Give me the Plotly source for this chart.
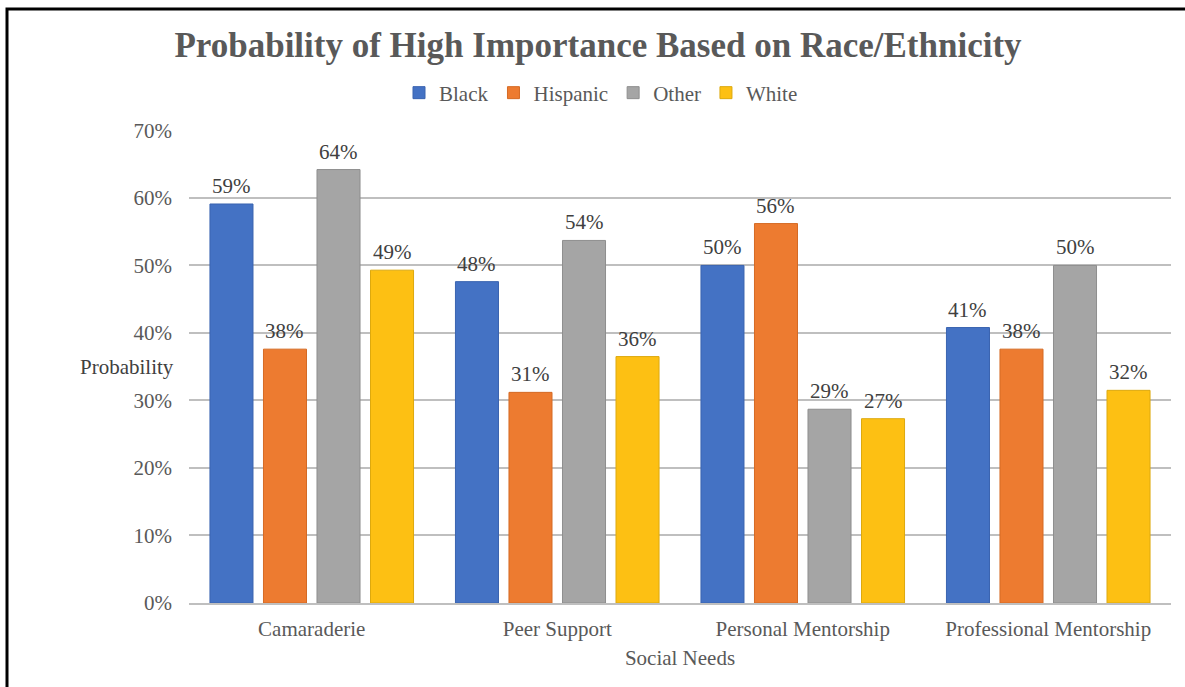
import plotly.graph_objects as go

categories = ["Camaraderie", "Peer Support", "Personal Mentorship", "Professional Mentorship"]
series_names = ["Black", "Hispanic", "Other", "White"]
black = [0.591, 0.476, 0.500, 0.408]
hispanic = [0.376, 0.312, 0.562, 0.376]
other = [0.642, 0.537, 0.287, 0.500]
white = [0.493, 0.365, 0.273, 0.315]
y_ticks = [0, 0.1, 0.2, 0.3, 0.4, 0.5, 0.6, 0.7]

series_values = [black, hispanic, other, white]
colors = ["#4472C4", "#ED7B30", "#A5A5A5", "#FDC013"]
line_colors = ["#3A64B0", "#D56A24", "#8E8E8E", "#DDA90E"]

W, H = 1185, 687
L, R, T, B = 189, 14, 130, 84
bargap = 0.128
bargroupgap = 0.196
FONT = "Liberation Serif"
FS = 21

fig = go.Figure()
for name, vals, c, lc in zip(series_names, series_values, colors, line_colors):
    fig.add_trace(go.Bar(
        name=name, x=categories, y=vals,
        marker=dict(color=c, line=dict(color=lc, width=1)),
    ))

pw, ph = W - L - R, H - T - B

# data labels above each bar
n = len(series_names)
slot = (1 - bargap) / n
annotations = []
for i, vals in enumerate(series_values):
    off = (i - (n - 1) / 2) * slot
    for j, v in enumerate(vals):
        annotations.append(dict(
            x=j + off, y=v, xref="x", yref="y", text=f"{round(v*100)}%",
            showarrow=False, yanchor="bottom", yshift=4,
            font=dict(family=FONT, size=FS, color="#404040"),
        ))

annotations.append(dict(
    x=(78 - L) / pw, y=(H - B - 367) / ph, xref="paper", yref="paper",
    text="Probability", showarrow=False,
    font=dict(family=FONT, size=FS, color="#404040"),
))

fig.update_layout(
    width=W, height=H,
    margin=dict(l=L, r=R, t=T, b=B),
    paper_bgcolor="white", plot_bgcolor="white",
    barmode="group", bargap=bargap, bargroupgap=bargroupgap,
    title=dict(
        text="<b>Probability of High Importance Based on Race/Ethnicity</b>",
        x=598 / W, xanchor="center", y=1 - 45 / H, yanchor="middle",
        font=dict(family=FONT, size=35, color="#595959"),
    ),
    legend=dict(
        orientation="h", x=(601 - L) / pw, xanchor="center",
        y=(H - B - 93) / ph, yanchor="middle",
        font=dict(family=FONT, size=FS, color="#595959"),
        itemwidth=30, tracegroupgap=0, bgcolor="rgba(0,0,0,0)",
    ),
    xaxis=dict(
        showline=True, linecolor="#BFBFBF", linewidth=2,
        ticks="", ticklabelstandoff=6,
        tickfont=dict(family=FONT, size=FS, color="#595959"),
        title=dict(text="Social Needs", standoff=10,
                   font=dict(family=FONT, size=FS, color="#595959")),
    ),
    yaxis=dict(
        range=[0, 0.7006], tickvals=y_ticks, tickformat=".0%",
        showgrid=True, gridcolor="#BFBFBF", gridwidth=2,
        zeroline=False, showline=False, ticks="", ticklabelstandoff=16,
        tickfont=dict(family=FONT, size=FS, color="#595959"),
    ),
    annotations=annotations,
    shapes=[dict(
        type="rect", xref="paper", yref="paper",
        x0=(7 - L) / pw, x1=(W + 20 - L) / pw,
        y0=(H - B - (H + 20)) / ph, y1=(H - B - 9) / ph,
        line=dict(color="black", width=3), layer="above",
    )],
)

fig.write_html("out.html")
